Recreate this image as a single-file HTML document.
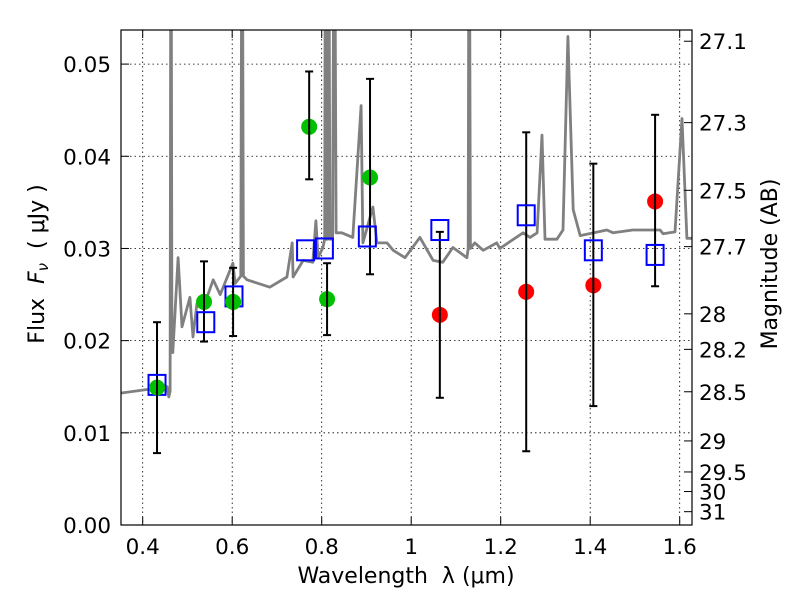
<!DOCTYPE html>
<html><head><meta charset="utf-8"><style>
body{margin:0;background:#fff;font-family:"DejaVu Sans","Liberation Sans",sans-serif}
svg text{font-family:"DejaVu Sans","Liberation Sans",sans-serif;white-space:pre}
</style></head><body>
<svg id="chart" width="800" height="600" xmlns="http://www.w3.org/2000/svg">
<defs><clipPath id="pc"><rect x="121" y="30" width="571" height="495"/></clipPath></defs>
<g id="grid"></g>
<g id="spec" clip-path="url(#pc)"></g>
<g id="marks"></g>
<rect x="121" y="30" width="571" height="495" fill="none" stroke="#000" stroke-width="1.2"/>
<g id="axes"></g>
<text x="406" y="583" font-size="22" text-anchor="middle" xml:space="preserve">Wavelength  λ (μm)</text>
<text transform="translate(44,264) rotate(-90)" font-size="22" text-anchor="middle" xml:space="preserve">Flux  <tspan font-style="italic">F</tspan><tspan font-style="italic" font-size="15" dy="4">ν</tspan><tspan dy="-4">  ( μJy )</tspan></text>
<text transform="translate(777,264) rotate(-90)" font-size="22" text-anchor="middle">Magnitude (AB)</text>
</svg>
<script>
const specWave=[0.3495,0.4545,0.4584,0.4613,0.4633,0.4652,0.4672,0.4790,0.4878,0.5055,0.5123,0.5212,0.5437,0.5575,0.5732,0.6016,0.6065,0.6193,0.6222,0.6251,0.6330,0.6840,0.7223,0.7340,0.7360,0.7586,0.7801,0.7870,0.7919,0.8027,0.8066,0.8086,0.8106,0.8135,0.8155,0.8184,0.8243,0.8282,0.8321,0.8449,0.8694,0.8881,0.8920,0.9145,0.9234,0.9459,0.9597,0.9862,1.0195,1.0489,1.0705,1.0931,1.1245,1.1274,1.1294,1.1323,1.1421,1.1608,1.1912,1.1981,1.2500,1.2657,1.2814,1.2922,1.2991,1.3256,1.3393,1.3501,1.3619,1.3776,1.4374,1.4512,1.4953,1.5561,1.5630,1.5895,1.6052,1.6160,1.6268];
const specFlux=[0.0143,0.0150,0.0139,0.0145,0.08,0.020,0.0187,0.029,0.0215,0.0247,0.0204,0.024,0.0247,0.0266,0.025,0.0284,0.0262,0.027,0.08,0.027,0.0266,0.0258,0.0269,0.0306,0.0269,0.0287,0.0285,0.033,0.029,0.0301,0.031,0.08,0.031,0.031,0.08,0.031,0.031,0.08,0.0317,0.0317,0.0312,0.0455,0.0306,0.0345,0.0306,0.0306,0.0298,0.029,0.0312,0.0287,0.0285,0.0301,0.0290,0.030,0.08,0.030,0.0306,0.0298,0.0306,0.0300,0.0317,0.0312,0.0317,0.0423,0.031,0.031,0.032,0.053,0.0342,0.0314,0.0320,0.0317,0.0320,0.0320,0.0316,0.0318,0.0441,0.0311,0.0311];
const photWave=[0.432,0.537,0.602,0.772,0.812,0.908,1.064,1.257,1.407,1.545];
const photFlux=[0.0149,0.0242,0.0242,0.0432,0.0245,0.0377,0.0228,0.0253,0.0260,0.0351];
const photLo=[0.0078,0.0199,0.0205,0.0375,0.0206,0.0272,0.0138,0.0080,0.0129,0.0259];
const photHi=[0.0220,0.0286,0.0279,0.0492,0.0284,0.0484,0.0318,0.0426,0.0392,0.0445];
const photColor=["#00c000","#00c000","#00c000","#00c000","#00c000","#00c000","#f00","#f00","#f00","#f00"];
const modelWave=[0.432,0.541,0.604,0.764,0.806,0.902,1.064,1.257,1.407,1.545];
const modelFlux=[0.0152,0.0220,0.0248,0.0298,0.0300,0.0313,0.0320,0.0336,0.0298,0.0293];
const xTicks=[0.4,0.6,0.8,1.0,1.2,1.4,1.6];
const xTickLabels=["0.4","0.6","0.8","1","1.2","1.4","1.6"];
const yTicks=[0,0.01,0.02,0.03,0.04,0.05];
const yTickLabels=["0.00","0.01","0.02","0.03","0.04","0.05"];
const magTicks=[27.1,27.3,27.5,27.7,28,28.2,28.5,29,29.5,30,31];

const X=v=>142.7+(v-0.4)*447.5;
const Y=v=>525-(v/0.0537)*495;
const NS="http://www.w3.org/2000/svg";
function mk(tag,attrs,parent){const e=document.createElementNS(NS,tag);for(const k in attrs)e.setAttribute(k,attrs[k]);parent.appendChild(e);return e;}
const grid=document.getElementById('grid'),axes=document.getElementById('axes'),spec=document.getElementById('spec'),marks=document.getElementById('marks');
xTicks.forEach((t,i)=>{const x=X(t);
 let g=mk('line',{x1:x,x2:x,y1:30,y2:525,stroke:'#000','stroke-width':0.8,'stroke-dasharray':'1.5,3'},grid);
 
 mk('line',{x1:x,x2:x,y1:525,y2:517,stroke:'#000'},axes);mk('line',{x1:x,x2:x,y1:30,y2:38,stroke:'#000'},axes);
 let tx=mk('text',{x:x,y:554,'font-size':21.5,'text-anchor':'middle'},axes);tx.textContent=xTickLabels[i];
 });
yTicks.forEach((t,i)=>{const y=Y(t);
 let g=mk('line',{x1:121,x2:692,y1:y,y2:y,stroke:'#000','stroke-width':0.8,'stroke-dasharray':'1.5,3'},grid);
 
 mk('line',{x1:121,x2:129,y1:y,y2:y,stroke:'#000'},axes);
 let tx=mk('text',{x:111,y:y+8,'font-size':21.5,'text-anchor':'end'},axes);tx.textContent=yTickLabels[i];
 });
magTicks.forEach(m=>{const y=Y(Math.pow(10,(23.9-m)/2.5));
 mk('line',{x1:684,x2:692,y1:y,y2:y,stroke:'#000'},axes);
 let tx=mk('text',{x:699,y:y+8,'font-size':21.5},axes);tx.textContent=String(m);
 });
let d=specWave.map((w,i)=>(i?'L':'M')+X(w).toFixed(1)+','+Y(specFlux[i]).toFixed(1)).join('');
let sp=mk('path',{d:d,fill:'none',stroke:'#808080','stroke-width':2.8,'stroke-linejoin':'round'},spec);

photWave.forEach((w,i)=>{const x=X(w);
 let e=mk('g',{},marks);
 
 mk('line',{x1:x,x2:x,y1:Y(photLo[i]),y2:Y(photHi[i]),stroke:'#000','stroke-width':2},e);
 mk('line',{x1:x-4,x2:x+4,y1:Y(photLo[i]),y2:Y(photLo[i]),stroke:'#000','stroke-width':2},e);
 mk('line',{x1:x-4,x2:x+4,y1:Y(photHi[i]),y2:Y(photHi[i]),stroke:'#000','stroke-width':2},e);});
modelWave.forEach((w,i)=>{
 let r=mk('rect',{x:X(w)-8.5,y:Y(modelFlux[i])-10,width:17,height:20,fill:'none',stroke:'#0000ff','stroke-width':2},marks);
 });
photWave.forEach((w,i)=>{
 let c=mk('circle',{cx:X(w),cy:Y(photFlux[i]),r:8,fill:photColor[i]},marks);
 
 mk('line',{x1:X(w),x2:X(w),y1:Y(photFlux[i])-8,y2:Y(photFlux[i])+8,stroke:'#000','stroke-width':2},marks);});
</script>
</body></html>
